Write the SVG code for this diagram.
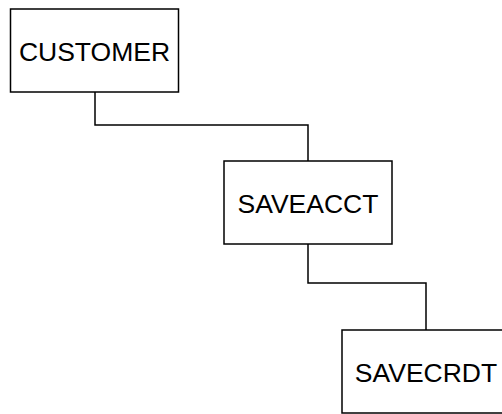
<svg xmlns="http://www.w3.org/2000/svg" width="502" height="414" viewBox="0 0 502 414">
<style>
.box{fill:#fff;stroke:#000;stroke-width:1.5}
.lbl{font-family:"Liberation Sans",Arial,Helvetica,sans-serif;font-size:26.5px;fill:#000;text-anchor:middle}
.conn{fill:none;stroke:#000;stroke-width:1.5}
</style>
<rect width="502" height="414" fill="#fff"/>
<g id="connectors">
<polyline class="conn" points="95,92 95,125 308,125 308,161"/>
<polyline class="conn" points="308,244 308,283 426,283 426,330"/>
</g>
<g id="customer">
<rect class="box" x="10.5" y="9" width="168" height="83"/>
<text class="lbl" x="94.5" y="61">CUSTOMER</text>
</g>
<g id="saveacct">
<rect class="box" x="224" y="161" width="168" height="83"/>
<text class="lbl" x="308" y="213">SAVEACCT</text>
</g>
<g id="savecrdt">
<rect class="box" x="342" y="330" width="168" height="83"/>
<text class="lbl" x="426" y="382">SAVECRDT</text>
</g>
</svg>
